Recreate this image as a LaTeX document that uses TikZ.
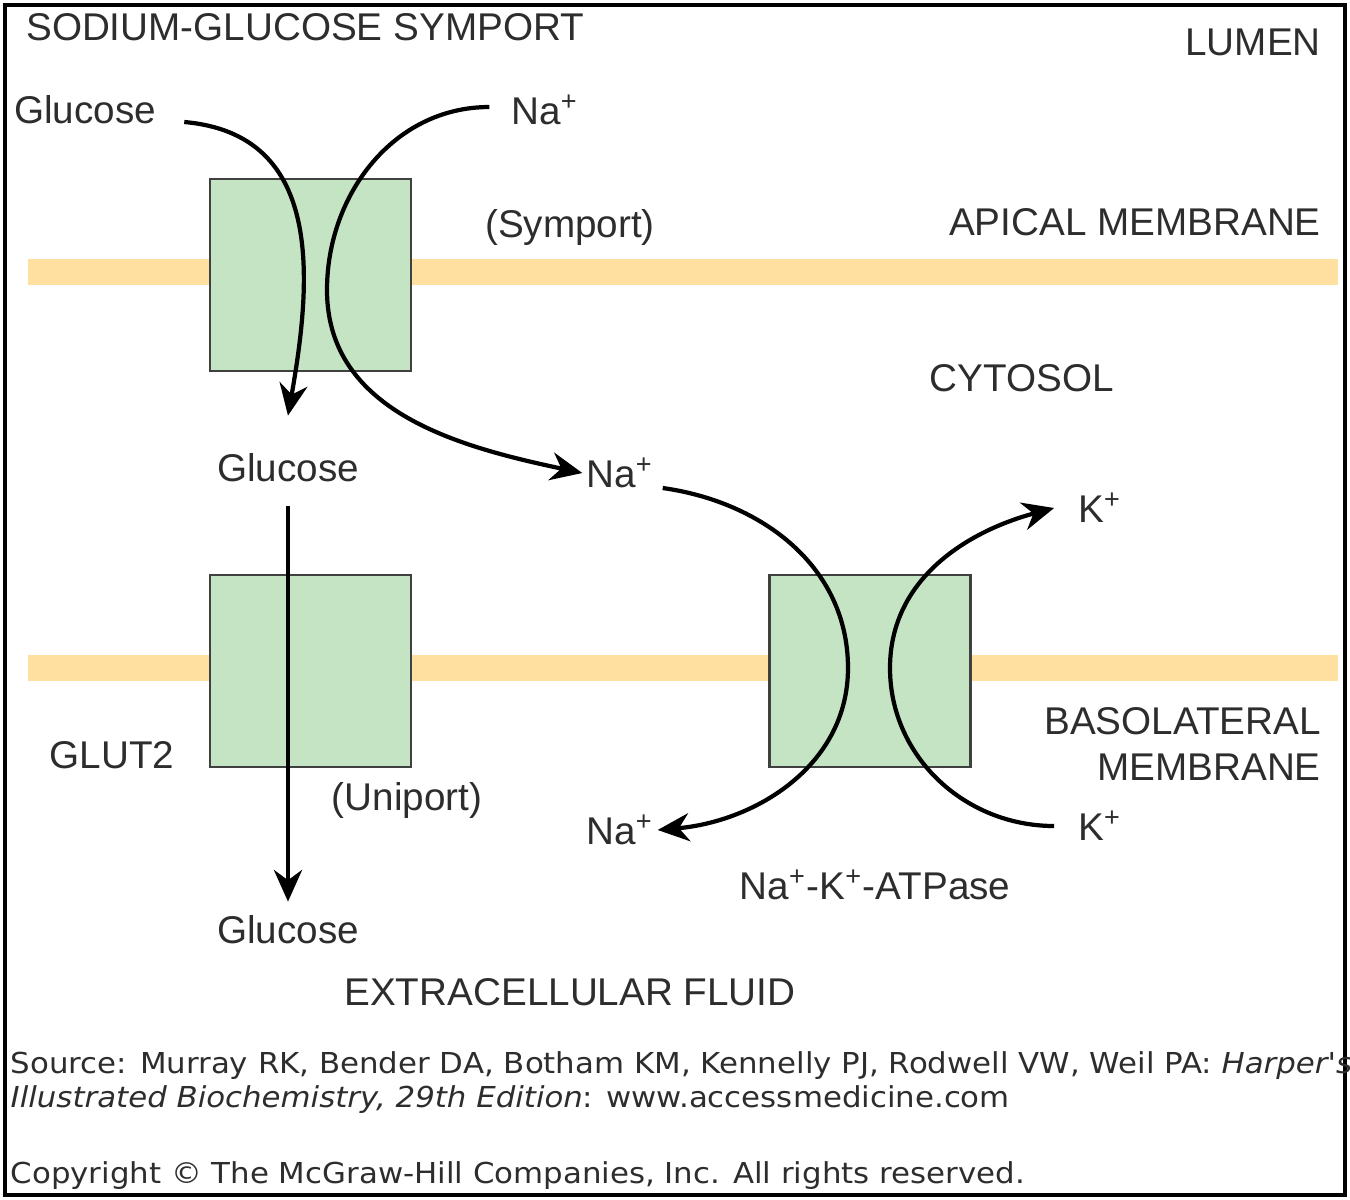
\documentclass[tikz,border=0pt]{standalone}
\usepackage{fontspec}
\setmainfont{Liberation Sans}
\newfontfamily\srcfont[FakeStretch=1.07]{DejaVu Sans}
\usepackage{tikz}
\usetikzlibrary{arrows.meta}
\tikzset{>={Stealth[length=9pt,width=8pt]}}
\definecolor{membranecol}{RGB}{255,224,160}
\definecolor{carriercol}{RGB}{196,228,196}
\definecolor{labelcol}{RGB}{45,45,45}
\tikzset{
  carrier/.style={draw=black!75, fill=carriercol, line width=0.8pt,
    minimum width=2.01cm, minimum height=1.92cm, inner sep=0pt},
  flow/.style={line width=1.2pt, ->},
  lbl/.style={font=\fontsize{11}{13}\selectfont, text=labelcol, inner sep=1pt},
  src/.style={font=\srcfont\fontsize{8.2}{9}\selectfont, text=labelcol, inner sep=0pt, anchor=west},
}

\begin{document}
\begin{tikzpicture}
    \useasboundingbox (0,0) rectangle (13.5,-12);
    \draw[line width=1.2pt] (0.05,-0.05) rectangle (13.45,-11.95);

    % membranes
    \fill[membranecol] (0.28,-2.59) rectangle (13.38,-2.85);
    \fill[membranecol] (0.28,-6.55) rectangle (13.38,-6.81);

    % carriers
    \node[carrier] (sym) at (3.105,-2.75) {};
    \node[carrier] (glut) at (3.105,-6.71) {};
    \node[carrier] (atp) at (8.70,-6.71) {};

    % labels
    \begin{scope}[lbl]
      \node[anchor=west] at (0.22,-0.27) {SODIUM-GLUCOSE SYMPORT};
      \node[anchor=east] at (13.25,-0.42) {LUMEN};
      \node[anchor=west] (gluA) at (0.10,-1.10) {Glucose};
      \node (naA) at (5.45,-1.10) {Na\textsuperscript{+}};
      \node (sympt) at (5.70,-2.27) {(Symport)};
      \node[anchor=east] at (13.25,-2.22) {APICAL MEMBRANE};
      \node at (10.22,-3.78) {CYTOSOL};
      \node (gluB) at (2.88,-4.68) {Glucose};
      \node (naB) at (6.20,-4.73) {Na\textsuperscript{+}};
      \node (kA) at (11.00,-5.08) {K\textsuperscript{+}};
      \node at (1.12,-7.55) {GLUT2};
      \node[anchor=east, align=right] at (13.25,-7.44) {BASOLATERAL\\MEMBRANE};
      \node at (4.07,-8.00) {(Uniport)};
      \node (naC) at (6.20,-8.30) {Na\textsuperscript{+}};
      \node (kB) at (11.00,-8.26) {K\textsuperscript{+}};
      \node at (8.75,-8.85) {Na\textsuperscript{+}-K\textsuperscript{+}-ATPase};
      \node (gluC) at (2.88,-9.30) {Glucose};
      \node at (5.70,-9.92) {EXTRACELLULAR FLUID};
    \end{scope}

    % symport
    \draw[flow] ([shift={(0.24,-0.12)}]gluA.east) to[out=-5,in=80,looseness=1.15] ([yshift=0.34cm]gluB.north);
    \draw[flow] ([shift={(-0.18,0.03)}]naA.west) to[out=180,in=90] (3.27,-2.90)
      to[out=-90,in=168] (naB.west);

    % uniport
    \draw[flow] ([yshift=-0.2cm]gluB.south) -- ([yshift=0.1cm]gluC.north);

    % pump
    \draw[flow] ([shift={(0.05,-0.15)}]naB.east) to[out=-8,in=90] (8.48,-6.68)
      to[out=-90,in=5] (naC.east);
    \draw[flow] ([xshift=-0.2cm]kB.west) to[out=180,in=-90] (8.90,-6.68)
      to[out=90,in=195] ([xshift=-0.2cm]kA.west);

    % source
    \node[src] at (0.10,-10.66) {Source: Murray RK, Bender DA, Botham KM, Kennelly PJ, Rodwell VW, Weil PA: \textit{Harper's}};
    \node[src] at (0.10,-11.00) {\textit{Illustrated Biochemistry, 29th Edition}: www.accessmedicine.com};
    \node[src] at (0.10,-11.76) {Copyright \textcopyright{} The McGraw-Hill Companies, Inc. All rights reserved.};
\end{tikzpicture}
\end{document}
